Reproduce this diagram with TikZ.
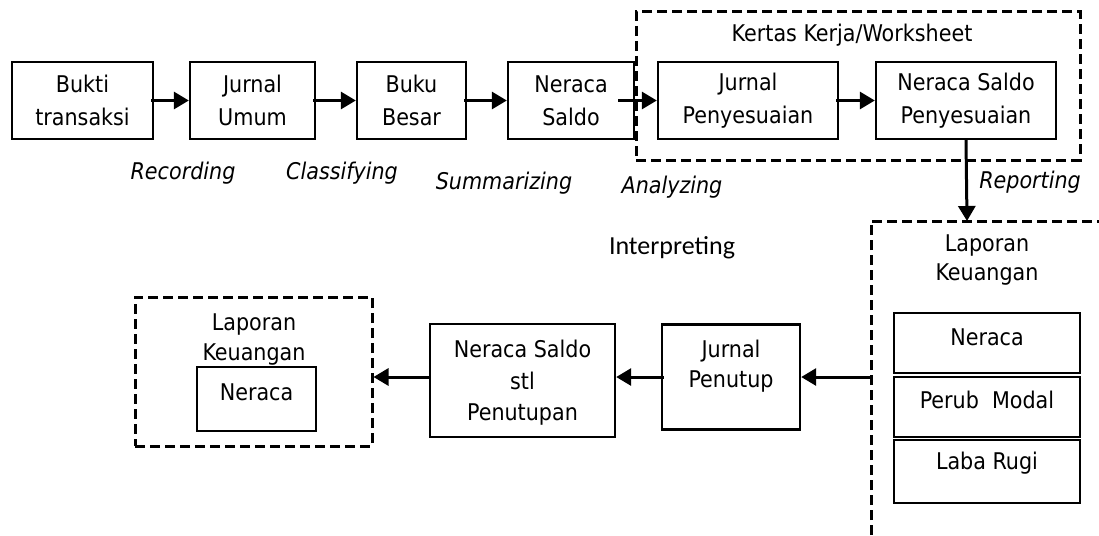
\documentclass[tikz,border=0pt]{standalone}
\usepackage{fontspec}
\setmainfont{DejaVu Sans Condensed}
\newfontfamily\interfont{Carlito}
\usetikzlibrary{arrows.meta}
\begin{document}
\begin{tikzpicture}[x=1pt,y=-1pt,
  box/.style={draw,line width=2.4pt,inner sep=0pt},
  txt/.style={align=center,font=\fontsize{23}{33}\selectfont,inner sep=0pt},
  txtb/.style={align=center,font=\fontsize{23}{30}\selectfont,inner sep=0pt},
  lbl/.style={font=\fontsize{23}{26}\selectfont\itshape,inner sep=0pt},
  dbox/.style={draw,line width=3pt,dash pattern=on 10pt off 5pt,inner sep=0pt},
  arr/.style={line width=3pt,-{Triangle[length=15pt,width=17pt]}}
]
\useasboundingbox (0,0) rectangle (1099,535);

% top row
\node[box,txt,minimum width=141pt,minimum height=77pt] (b1) at (82.5,100.5) {Bukti\\transaksi};
\node[box,txt,minimum width=125pt,minimum height=77pt] (b2) at (252.5,100.5) {Jurnal\\Umum};
\node[box,txt,minimum width=109pt,minimum height=77pt] (b3) at (411.5,100.5) {Buku\\Besar};
\node[box,txt,minimum width=126pt,minimum height=77pt] (b4) at (571,100.5) {Neraca\\Saldo};
\node[box,txt,minimum width=180pt,minimum height=77pt] (b5) at (748,100.5) {Jurnal\\Penyesuaian};
\node[box,txt,minimum width=180pt,minimum height=77pt] (b6) at (966,100.5) {Neraca Saldo\\Penyesuaian};

% worksheet dashed group
\node[dbox,minimum width=444pt,minimum height=148pt] (ws) at (858,86) {};
\node[txt] (wst) at (852,35) {Kertas Kerja/Worksheet};

\draw[arr] ([xshift=-3pt]b1.east) -- (b2.west);
\draw[arr] ([xshift=-3pt]b2.east) -- (b3.west);
\draw[arr] ([xshift=-3pt]b3.east) -- (b4.west);
\draw[arr] ([xshift=-17pt]b4.east) -- (b5.west);
\draw[arr] ([xshift=-3pt]b5.east) -- (b6.west);

% labels
\node[lbl] (l1) at (183,173) {Recording};
\node[lbl] (l2) at (342,173) {Classifying};
\node[lbl] (l3) at (504,183) {Summarizing};
\node[lbl] (l4) at (672,187) {Analyzing};
\node[lbl] (l5) at (1030,182) {Reporting};
\node[inner sep=0pt,font=\interfont\fontsize{26}{30}\selectfont] (l6) at (672,248) {Interpreting};

% right open dashed box
\coordinate (rtop) at (967,221);
\coordinate (rleft) at (871,377);
\draw[dbox] (871,535) -- (871,221) -- (1099,221);
\draw[arr] (b6.south) -- (rtop);
\node[txt,font=\fontsize{23}{29}\selectfont] (rlk) at (987,260) {Laporan\\Keuangan};
\node[box,minimum width=186pt,minimum height=60pt] (rn) at (987,343) {};
\node[box,minimum width=186pt,minimum height=60pt] (rp) at (987,407) {};
\node[box,minimum width=186pt,minimum height=63pt] (rl) at (987,471.5) {};
\node[txt] (rnt) at (987,337) {Neraca};
\node[txt] (rpt) at (987,400) {Perub\ \ Modal};
\node[txt] (rlt) at (987,463) {Laba Rugi};

% bottom row
\node[box,minimum width=138pt,minimum height=105pt] (jp) at (731,377) {};
\node[txtb] (jpt) at (731,366) {Jurnal\\Penutup};
\node[box,minimum width=185pt,minimum height=113pt] (ns) at (522.5,380.5) {};
\node[txtb,font=\fontsize{23}{31.5}\selectfont] (nst) at (522.5,383) {Neraca Saldo\\stl\\Penutupan};

\node[dbox,minimum width=237pt,minimum height=149pt] (ld) at (253.5,371.5) {};
\node[txtb] (ldt) at (254,340) {Laporan\\Keuangan};
\node[box,minimum width=119pt,minimum height=64pt] (ldn) at (256.5,399) {};
\node[txt] (ldnt) at (256.5,392) {Neraca};

\draw[arr] (rleft) -- (rleft -| jp.east);
\draw[arr] ([xshift=3pt]jp.west) -- (ns.east |- jp.west);
\draw[arr] (ns.west |- jp.west) -- (ld.east |- jp.west);
\end{tikzpicture}
\end{document}
